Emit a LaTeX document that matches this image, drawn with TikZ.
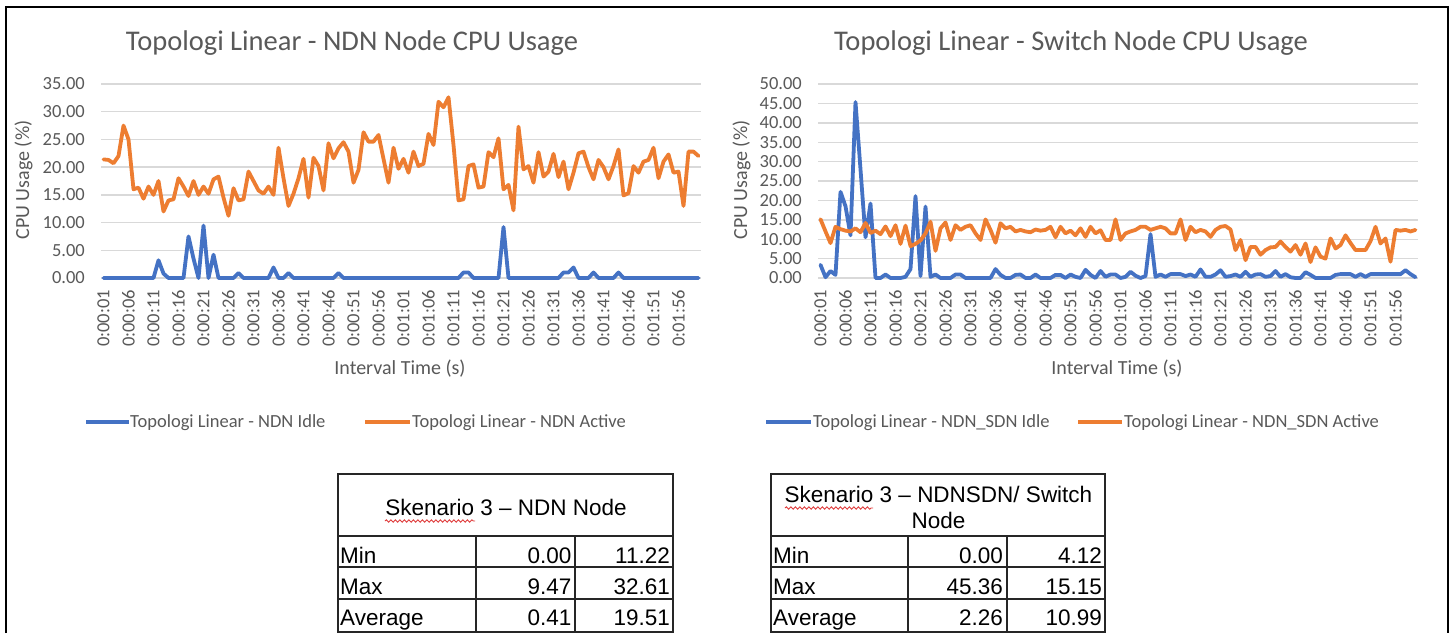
\documentclass[tikz,border=0pt]{standalone}
\usepackage{fontspec}
\setmainfont{Carlito}
\newfontfamily\tabfont{Liberation Sans}
\usetikzlibrary{decorations.pathmorphing}

\definecolor{txtgray}{HTML}{595959}
\definecolor{gridgray}{HTML}{D9D9D9}
\definecolor{sblue}{HTML}{4472C4}
\definecolor{sorange}{HTML}{ED7D31}
\definecolor{spellred}{HTML}{E03C3C}

% first entry of a comma list
\def\sfirst#1,#2\relax{#1}
% #1 style, #2 x of first sample, #3 y of value 0, #4 px per unit, #5 samples (5 px apart)
\newcommand\series[5]{%
  \edef\sv{\sfirst#5\relax}%
  \draw[#1] (#2,{#3-(\sv)*#4}) \foreach \v [count=\i from 0] in {#5} { -- ({#2+5*\i},{#3-(\v)*#4}) };
}

\tikzset{
  charttitle/.style={text=txtgray, font=\fontsize{28.5}{34}\selectfont, inner sep=0pt},
  ticklab/.style={text=txtgray, font=\fontsize{18.5}{22}\selectfont, inner sep=0pt},
  axtitle/.style={text=txtgray, font=\fontsize{20}{24}\selectfont, inner sep=0pt},
  gridln/.style={draw=gridgray, line width=1.4pt},
  blueln/.style={draw=sblue, line width=3.8pt, line join=round, line cap=round},
  orangeln/.style={draw=sorange, line width=3.8pt, line join=round, line cap=round},
  legblue/.style={draw=sblue, line width=4pt},
  legorange/.style={draw=sorange, line width=4pt},
  tabln/.style={draw=black!85, line width=1.8pt},
  tabtxt/.style={font=\tabfont\fontsize{22.5}{26}\selectfont, inner sep=0pt, text=black},
  spell/.style={draw=spellred, line width=0.9pt, decorate,
    decoration={snake, amplitude=1.2pt, segment length=4.5pt}},
}

\begin{document}
\begin{tikzpicture}[x=1pt,y=-1pt]
\useasboundingbox (0,0) rectangle (1449,633);
\fill[white] (0,0) rectangle (1449,633);

% outer frame (open at the bottom)
\draw[black, line width=2.4pt] (6,633) -- (6,7.2) -- (1448,7.2) -- (1448,633);

% ---------------- NDN node chart ----------------
\node[charttitle, anchor=base] (t1) at (352,50) {Topologi Linear - NDN Node CPU Usage};
\foreach \g in {0,5,...,35} {
  \draw[gridln] (101,{278-\g*5.5429}) -- (701,{278-\g*5.5429});
  \node[ticklab, anchor=east] (ly\g) at (85,{278-\g*5.5429}) {\g.00};
}
\node[axtitle, rotate=90, anchor=base] (ay1) at (29,180) {CPU Usage (\%)};
\foreach \t [count=\k from 0] in {0:00:01,0:00:06,0:00:11,0:00:16,0:00:21,0:00:26,0:00:31,0:00:36,0:00:41,0:00:46,0:00:51,0:00:56,0:01:01,0:01:06,0:01:11,0:01:16,0:01:21,0:01:26,0:01:31,0:01:36,0:01:41,0:01:46,0:01:51,0:01:56}
  \node[ticklab, rotate=90, anchor=east] (lx\k) at ({103.5+25*\k},290) {\t};
\node[axtitle, anchor=base] (ax1) at (400,374) {Interval Time (s)};

\series{blueln}{103.5}{278}{5.5429}{0,0,0,0,0,0,0,0,0,0,0,3.2,0.8,0,0,0,0,7.5,3.5,0,9.47,0,4.2,0,0,0,0,0.9,0,0,0,0,0,0,1.9,0,0,0.9,0,0,0,0,0,0,0,0,0,0.9,0,0,0,0,0,0,0,0,0,0,0,0,0,0,0,0,0,0,0,0,0,0,0,0,1,1,0,0,0,0,0,0,9.2,0,0,0,0,0,0,0,0,0,0,0,1,1,1.9,0,0,0,1,0,0,0,0,1,0,0,0,0,0,0,0,0,0,0,0,0,0,0,0,0}
\series{orangeln}{103.5}{278}{5.5429}{21.4,21.3,20.7,22,27.5,25,16,16.3,14.3,16.5,15,17.5,12,14,14.2,18,16.5,14.8,17.5,15,16.5,15.2,17.8,18.3,14.5,11.22,16.2,14,14.2,19.2,17.5,15.8,15.2,16.5,15,23.5,18,13,15.2,18,21.5,14.5,21.7,20.2,15.8,24.3,21.6,23.4,24.5,22.8,17.2,19.5,26.3,24.6,24.6,25.8,21.5,17.2,23.5,19.7,21.5,19,22.8,20.2,20.6,26,24,31.8,30.8,32.61,24,14,14.2,20.2,20.5,16.3,16.5,22.7,21.8,25.2,16,16.8,12.2,27.3,19.6,20.2,17.2,22.7,18.3,19.2,22.4,18.2,21,16,19,22.5,22.8,20,17.8,21.3,20,17.8,20.2,23.2,14.9,15.3,20.2,19,21,21.3,23.5,18,21,22.3,19,19.2,13,22.8,22.8,22}

% legend
\coordinate (lb1a) at (86,422);  \coordinate (lb1b) at (129,422);
\draw[legblue] (lb1a) -- (lb1b);
\node[ticklab, anchor=base west] (lg1a) at (130,427) {Topologi Linear - NDN Idle};
\coordinate (lo1a) at (365,422); \coordinate (lo1b) at (410,422);
\draw[legorange] (lo1a) -- (lo1b);
\node[ticklab, anchor=base west] (lg1b) at (412,427) {Topologi Linear - NDN Active};

% ---------------- Switch node chart ----------------
\node[charttitle, anchor=base] (t2) at (1071,50) {Topologi Linear - Switch Node CPU Usage};
\foreach \g in {0,5,...,50} {
  \draw[gridln] (818,{278-\g*3.88}) -- (1418,{278-\g*3.88});
  \node[ticklab, anchor=east] (ry\g) at (802,{278-\g*3.88}) {\g.00};
}
\node[axtitle, rotate=90, anchor=base] (ay2) at (747,180) {CPU Usage (\%)};
\foreach \t [count=\k from 0] in {0:00:01,0:00:06,0:00:11,0:00:16,0:00:21,0:00:26,0:00:31,0:00:36,0:00:41,0:00:46,0:00:51,0:00:56,0:01:01,0:01:06,0:01:11,0:01:16,0:01:21,0:01:26,0:01:31,0:01:36,0:01:41,0:01:46,0:01:51,0:01:56}
  \node[ticklab, rotate=90, anchor=east] (rx\k) at ({820.5+25*\k},290) {\t};
\node[axtitle, anchor=base] (ax2) at (1117,374) {Interval Time (s)};

\series{blueln}{820.5}{278}{3.88}{3.4,0.2,1.8,0.8,22.2,18.5,11,45.36,28,10.5,19.2,0,0,0.9,0,0,0,0.3,2.3,21.1,0.5,18.4,0.3,0.9,0,0,0,0.9,0.9,0,0,0,0,0,0,2.3,0.8,0,0,0.8,0.9,0,0,0.9,0,0,0,0.8,0.8,0,0.9,0.3,0,2.1,0.8,0,1.8,0.3,0.9,0.9,0,0.3,1.6,0.6,0,0.5,11.3,0.3,0.9,0.3,1,1,1,0.5,0.9,0.3,2.2,0.3,0.3,0.9,2,0.3,0.5,0.9,0.3,1.6,0.3,0.9,1,0.3,0.5,1.8,0.3,1,0.2,0,0,1.5,0.8,0,0,0,0,0.8,1,1,1,0.3,1,0.3,1,1,1,1,1,1,1,2,1,0.2}
\series{orangeln}{820.5}{278}{3.88}{15.15,12,9,13.2,12.6,12.2,12,12.8,11.8,14.2,11.6,12.2,11.3,13.3,10.8,13.6,8.8,13.5,8.2,8.8,9.7,11.5,14.5,7,12.8,14.3,9.8,13.6,12.4,13.2,13.6,11.5,9.8,15.1,12.4,9.1,14.1,12.8,13.2,12,12.4,12,11.8,12.5,12.2,12.4,13.2,10.5,13.2,11.5,12.2,11,12.8,10.6,13.2,11.5,12.3,9.8,9.8,15.1,9.8,11.5,12,12.4,13.2,13.2,12.4,12.8,13.2,12.8,11.5,11.5,15.1,9.8,13.2,11.8,12.4,12,10.6,12.4,13.2,13.4,12.5,7.2,9.8,4.6,8,8,6,7.2,7.9,8,9.4,8,6.8,8.5,6,8.9,4.12,7.9,5.5,5,10.2,7.6,8.5,11,9,7.2,7.2,7.2,9.5,13.2,8.9,10.2,4.2,12.4,12.2,12.4,12,12.4}

% legend
\coordinate (lb2a) at (766,422);  \coordinate (lb2b) at (811,422);
\draw[legblue] (lb2a) -- (lb2b);
\node[ticklab, anchor=base west] (lg2a) at (813,427) {Topologi Linear - NDN\_SDN Idle};
\coordinate (lo2a) at (1078,422); \coordinate (lo2b) at (1122,422);
\draw[legorange] (lo2a) -- (lo2b);
\node[ticklab, anchor=base west] (lg2b) at (1124,427) {Topologi Linear - NDN\_SDN Active};

% ---------------- summary table: NDN node ----------------
\draw[tabln] (338,474) rectangle (673,632);
\draw[tabln] (338,536) -- (673,536);
\draw[tabln] (338,567) -- (673,567);
\draw[tabln] (338,599) -- (673,599);
\draw[tabln] (476,536) -- (476,632);
\draw[tabln] (575,536) -- (575,632);
\node[tabtxt, anchor=base] (h1) at (506,515) {Skenario 3 – NDN Node};
\draw[spell] (385,521) -- (475,521);
\node[tabtxt, anchor=base west] (a1) at (340,563) {Min};
\node[tabtxt, anchor=base west] (a2) at (340,594) {Max};
\node[tabtxt, anchor=base west] (a3) at (340,625) {Average};
\node[tabtxt, anchor=base east] (b1) at (571.5,563) {0.00};
\node[tabtxt, anchor=base east] (b2) at (571.5,594) {9.47};
\node[tabtxt, anchor=base east] (b3) at (571.5,625) {0.41};
\node[tabtxt, anchor=base east] (c1) at (670,563) {11.22};
\node[tabtxt, anchor=base east] (c2) at (670,594) {32.61};
\node[tabtxt, anchor=base east] (c3) at (670,625) {19.51};

% ---------------- summary table: switch node ----------------
\draw[tabln] (771,474) rectangle (1105,632);
\draw[tabln] (771,536) -- (1105,536);
\draw[tabln] (771,567) -- (1105,567);
\draw[tabln] (771,599) -- (1105,599);
\draw[tabln] (908,536) -- (908,632);
\draw[tabln] (1007,536) -- (1007,632);
\node[tabtxt, anchor=base] (h2a) at (938.5,502) {Skenario 3 – NDNSDN/ Switch};
\node[tabtxt, anchor=base] (h2b) at (938.5,528) {Node};
\draw[spell] (785,508) -- (873,508);
\node[tabtxt, anchor=base west] (d1) at (773,563) {Min};
\node[tabtxt, anchor=base west] (d2) at (773,594) {Max};
\node[tabtxt, anchor=base west] (d3) at (773,625) {Average};
\node[tabtxt, anchor=base east] (e1) at (1003,563) {0.00};
\node[tabtxt, anchor=base east] (e2) at (1003,594) {45.36};
\node[tabtxt, anchor=base east] (e3) at (1003,625) {2.26};
\node[tabtxt, anchor=base east] (f1) at (1102,563) {4.12};
\node[tabtxt, anchor=base east] (f2) at (1102,594) {15.15};
\node[tabtxt, anchor=base east] (f3) at (1102,625) {10.99};
\end{tikzpicture}
\end{document}
